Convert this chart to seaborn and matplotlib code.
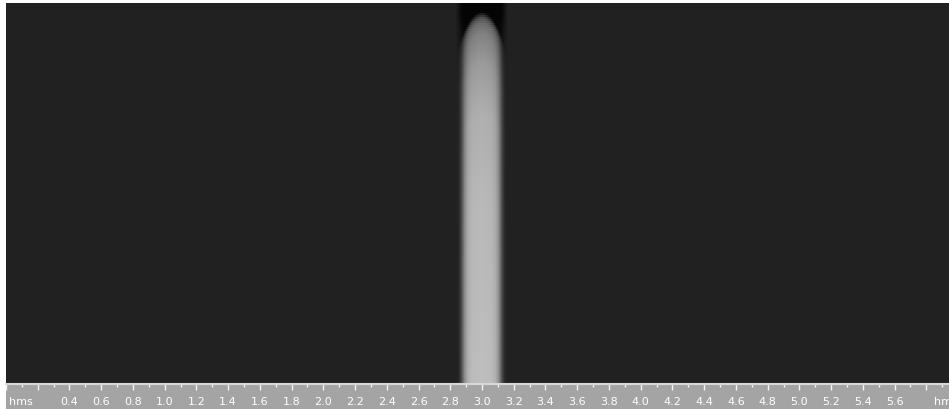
import numpy as np
import pandas as pd
import matplotlib
matplotlib.use("Agg")
import matplotlib.pyplot as plt
import seaborn as sns
from matplotlib import font_manager

sns.set_theme(style="white")
names = {f.name for f in font_manager.fontManager.ttflist}
label_font = ["Liberation Sans Narrow", "DejaVu Sans"] if "Liberation Sans Narrow" in names else ["DejaVu Sans"]
plt.rcParams["font.family"] = label_font

# ---- time ruler (hms units) ----
x_min, x_max = 0.013, 5.943
tick_labels = ["0.4", "0.6", "0.8", "1.0", "1.2", "1.4", "1.6", "1.8", "2.0", "2.2",
               "2.4", "2.6", "2.8", "3.0", "3.2", "3.4", "3.6", "3.8", "4.0", "4.2",
               "4.4", "4.6", "4.8", "5.0", "5.2", "5.4", "5.6"]
major_ticks = [0.2 * i for i in range(0, 30)]
minor_ticks = [0.1 + 0.2 * i for i in range(0, 30)]
unit_label = "hms"

# ---- band ----
band_center = 3.005
col_offset = [0.0, 0.063, 0.088, 0.107, 0.119, 0.132, 0.145, 0.157, 1.0]   # hms from centre
col_gain = [1.0, 0.98, 0.90, 0.70, 0.45, 0.20, 0.05, 0.0, 0.0]
row_depth = [0.0, 0.021, 0.037, 0.052, 0.079, 0.157, 0.289, 0.525, 1.0]  # fraction of height
row_level = [4, 4, 80, 110, 130, 155, 175, 185, 190]                      # gray level
dome_rise = 0.07          # fraction of height the band shoulders sit lower
halo_offset = [0.0, 0.12, 0.165, 1.0]
halo_lateral = [1.0, 1.0, 0.0, 0.0]
halo_depth = [0.0, 0.03, 0.07, 0.13, 0.22, 1.0]
halo_strength = [1.0, 1.0, 0.6, 0.25, 0.0, 0.0]
background_level = 33
black_level = 4

W, H = 949, 410
ncols, nrows = 943, 190
xs = np.linspace(x_min, x_max, ncols)
ys = np.linspace(0, 1, nrows)
dx = np.abs(xs - band_center)
gain = np.interp(dx, col_offset, col_gain)
rel = np.clip(dx / 0.13, 0, 1.5)
yy = ys[:, None] - dome_rise * rel[None, :] ** 2
band = np.interp(yy, row_depth, row_level)
halo = np.interp(ys, halo_depth, halo_strength)[:, None] * np.interp(dx, halo_offset, halo_lateral)[None, :]
base = background_level * (1 - halo) + black_level * halo
img = base + (band - base) * gain[None, :]
frame = pd.DataFrame(img)

fig = plt.figure(figsize=(W / 100, H / 100), dpi=100)
fig.patch.set_facecolor("white")
ax = fig.add_axes([6 / W, 1 - 385 / H, 943 / W, 381 / H])
sns.heatmap(frame, ax=ax, cmap="gray", vmin=0, vmax=255, cbar=False,
            xticklabels=False, yticklabels=False, rasterized=True)
ax.set_xticks([]); ax.set_yticks([])
for s in ax.spines.values():
    s.set_visible(False)

ax2 = fig.add_axes([6 / W, 0, 943 / W, 25 / H])
ax2.set_facecolor("#a4a4a4")
ax2.set_xlim(x_min, x_max)
ax2.set_ylim(0, 1)
for k, s in ax2.spines.items():
    s.set_visible(k == "top")
ax2.spines["top"].set_color("#d8d8d8")
ax2.spines["top"].set_linewidth(1.5)
ax2.set_xticks(major_ticks)
ax2.set_xticks(minor_ticks, minor=True)
ax2.set_yticks([])
ax2.tick_params(axis="x", which="both", top=True, bottom=False, direction="in",
                labeltop=False, labelbottom=False, color="#f4f4f4", width=1)
ax2.tick_params(axis="x", which="major", length=4.5)
ax2.tick_params(axis="x", which="minor", length=2.3)
for lab in tick_labels:
    ax2.text(float(lab), 0.32, lab, ha="center", va="center", color="white", fontsize=8)
ax2.text(x_min + 0.005, 0.32, unit_label, ha="left", va="center", color="white", fontsize=8)
ax2.text(5.85, 0.32, unit_label, ha="left", va="center", color="white", fontsize=8, clip_on=True)

fig.savefig("out.png", dpi=100, facecolor="white")
